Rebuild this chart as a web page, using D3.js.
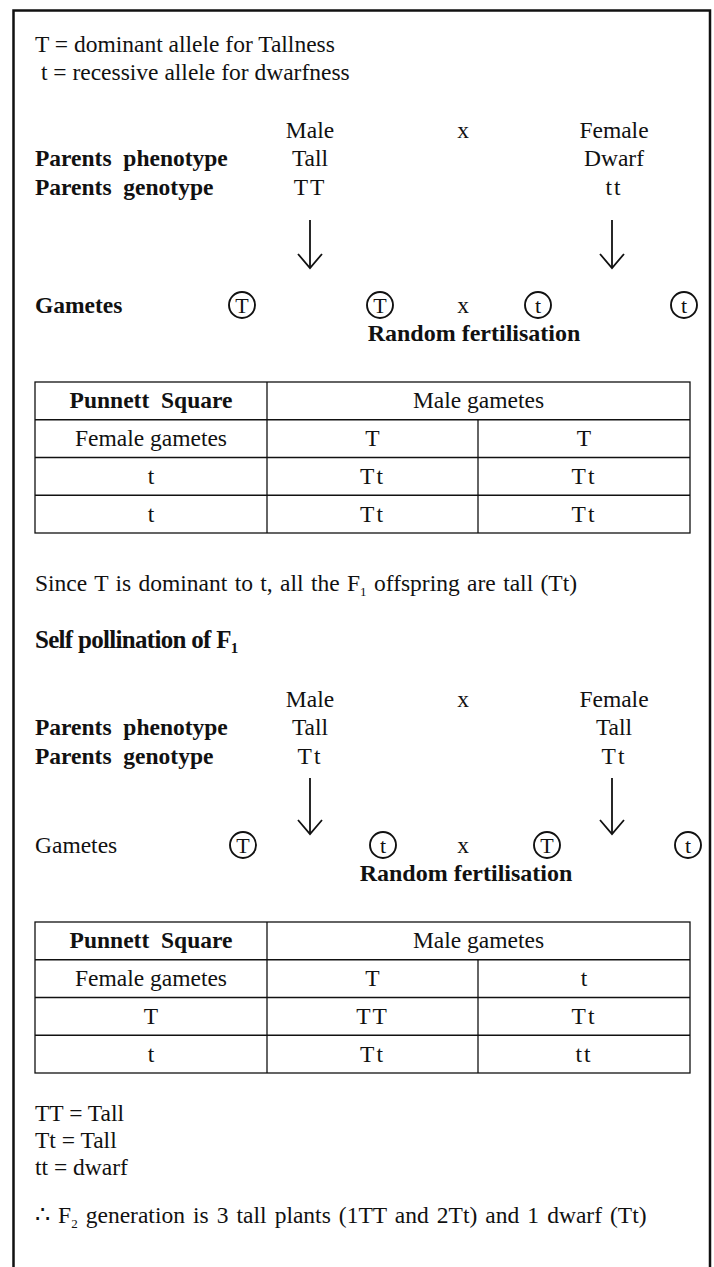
<!DOCTYPE html>
<html>
<head>
<meta charset="utf-8">
<script src="https://cdn.jsdelivr.net/npm/d3@7"></script>
<style>
  body { margin: 0; background: #fff; }
  svg text { font-family: "Liberation Serif", "Times New Roman", serif; fill: #111; white-space: pre; }
</style>
</head>
<body>
<div id="chart"></div>
<script>
// ---- data ----
const alleleKey = ['T = dominant allele for Tallness', ' t = recessive allele for dwarfness'];
const parentSex = ['Male', 'x', 'Female'];

const cross1Phenotype = ['Tall', 'Dwarf'];
const cross1Genotype = ['TT', 'tt'];
const cross1Gametes = ['T', 'T', 't', 't'];
const square1Male = ['T', 'T'];
const square1Female = ['t', 't'];
const square1Cells = [['Tt', 'Tt'], ['Tt', 'Tt']];

const cross2Phenotype = ['Tall', 'Tall'];
const cross2Genotype = ['Tt', 'Tt'];
const cross2Gametes = ['T', 't', 'T', 't'];
const square2Male = ['T', 't'];
const square2Female = ['T', 't'];
const square2Cells = [['TT', 'Tt'], ['Tt', 'tt']];

const f2Key = ['TT = Tall', 'Tt = Tall', 'tt = dwarf'];

// ---- layout ----
const width = 714;
const height = 1267;
const left = 35;
const fs = 23.5;

const svg = d3.select('#chart').append('svg')
  .attr('width', width)
  .attr('height', height);

// outer frame, open at the bottom
svg.append('path')
  .attr('d', `M13.5,${height + 5}V10.5H710V${height + 5}`)
  .attr('fill', 'none')
  .attr('stroke', '#111')
  .attr('stroke-width', 2.5);

// parents columns: male, cross sign, female
const parentX = d3.scaleOrdinal().domain([0, 1, 2]).range([310, 463, 614]);
// table columns
const colX = d3.scaleOrdinal().domain([0, 1, 2, 3]).range([35, 267, 478, 690]);

function addText(x, y, str, opts = {}) {
  const t = svg.append('text')
    .attr('x', x)
    .attr('y', y)
    .attr('font-size', opts.size || fs)
    .attr('font-weight', opts.bold ? 'bold' : 'normal')
    .attr('text-anchor', opts.anchor || 'start')
    .attr('letter-spacing', opts.spacing || 0)
    .attr('word-spacing', opts.words || 0)
    .text(str);
  return t;
}

function withSub(t, main, sub, after, subSize) {
  t.text(null);
  t.append('tspan').text(main);
  t.append('tspan').attr('font-size', subSize).attr('dy', 5).text(sub);
  if (after) t.append('tspan').attr('dy', -5).text(after);
  return t;
}

function arrow(x, y0, y1) {
  svg.append('line')
    .attr('x1', x).attr('x2', x)
    .attr('y1', y0).attr('y2', y1)
    .attr('stroke', '#111').attr('stroke-width', 1.8);
  svg.append('polyline')
    .attr('points', `${x - 12},${y1 - 14} ${x},${y1} ${x + 12},${y1 - 14}`)
    .attr('fill', 'none')
    .attr('stroke', '#111').attr('stroke-width', 1.8);
}

function drawCross(top, phenotype, genotype, arrowY, gy, gametes, gameteX, randX, boldGametes) {
  parentSex.forEach((s, i) => addText(parentX(i), top, s, { anchor: 'middle' }));
  addText(left, top + 28, 'Parents  phenotype', { bold: true });
  addText(left, top + 57, 'Parents  genotype', { bold: true });
  phenotype.forEach((p, i) => addText(parentX(i * 2), top + 28, p, { anchor: 'middle' }));
  genotype.forEach((g, i) => addText(parentX(i * 2), top + 57, g, { anchor: 'middle', spacing: 2 }));

  arrow(parentX(0), arrowY[0], arrowY[1]);
  arrow(parentX(2) - 2, arrowY[0], arrowY[1]);

  addText(left, gy + 8, 'Gametes', { bold: boldGametes });
  const g = svg.append('g').selectAll('g')
    .data(gametes)
    .join('g')
    .attr('transform', (d, i) => `translate(${gameteX[i]},${gy})`);
  g.append('circle')
    .attr('r', 13)
    .attr('fill', 'none')
    .attr('stroke', '#111')
    .attr('stroke-width', 1.9);
  g.append('text')
    .attr('y', 7.5)
    .attr('text-anchor', 'middle')
    .attr('font-size', 22)
    .text(d => d);
  addText(parentX(1), gy + 8, 'x', { anchor: 'middle' });
  addText(randX, gy + 36, 'Random fertilisation', { bold: true, anchor: 'middle', size: 24 });
}

function drawSquare(top, male, female, cells) {
  const rows = [
    ['Punnett  Square', 'Male gametes'],
    ['Female gametes'].concat(male)
  ].concat(female.map((f, i) => [f].concat(cells[i])));
  const rowY = d3.scaleLinear().domain([0, rows.length]).range([top, top + 151]);

  const g = svg.append('g');
  g.append('rect')
    .attr('x', colX(0)).attr('y', rowY(0))
    .attr('width', colX(3) - colX(0)).attr('height', rowY(rows.length) - rowY(0))
    .attr('fill', 'none').attr('stroke', '#111').attr('stroke-width', 1.3);
  d3.range(1, rows.length).forEach(r => {
    g.append('line')
      .attr('x1', colX(0)).attr('x2', colX(3))
      .attr('y1', rowY(r)).attr('y2', rowY(r))
      .attr('stroke', '#111').attr('stroke-width', 1.3);
  });
  // column dividers: first one runs full height, second skips the header row
  g.append('line')
    .attr('x1', colX(1)).attr('x2', colX(1))
    .attr('y1', rowY(0)).attr('y2', rowY(rows.length))
    .attr('stroke', '#111').attr('stroke-width', 1.3);
  g.append('line')
    .attr('x1', colX(2)).attr('x2', colX(2))
    .attr('y1', rowY(1)).attr('y2', rowY(rows.length))
    .attr('stroke', '#111').attr('stroke-width', 1.3);

  rows.forEach((row, r) => {
    const cy = (rowY(r) + rowY(r + 1)) / 2 + 7.5;
    if (r === 0) {
      addText((colX(0) + colX(1)) / 2, cy, row[0], { bold: true, anchor: 'middle' });
      addText((colX(1) + colX(3)) / 2, cy, row[1], { anchor: 'middle' });
    } else {
      row.forEach((c, i) => {
        addText((colX(i) + colX(i + 1)) / 2, cy, c, { anchor: 'middle', spacing: i > 0 && c.length > 1 ? 2 : 0 });
      });
    }
  });
}

// ---- first cross ----
alleleKey.forEach((s, i) => addText(left, 52 + i * 28, s));
drawCross(138, cross1Phenotype, cross1Genotype, [220, 268], 305, cross1Gametes, [242, 380, 538, 684], 474, true);
drawSquare(382, square1Male, square1Female, square1Cells);

withSub(addText(left, 591, '', { words: 1.5 }), 'Since T is dominant to t, all the F', '1', ' offspring are tall (Tt)', 13);

// ---- second cross ----
withSub(addText(left, 648, '', { bold: true, spacing: -0.7, size: 25 }), 'Self pollination of F', '1', null, 15);
drawCross(707, cross2Phenotype, cross2Genotype, [778, 834], 845, cross2Gametes, [243, 383, 547, 688], 466, false);
drawSquare(922, square2Male, square2Female, square2Cells);

f2Key.forEach((s, i) => addText(left, 1121 + i * 27, s));
withSub(addText(left, 1223, '', { words: 2.2 }), '\u2234 F', '2', ' generation is 3 tall plants (1TT and 2Tt) and 1 dwarf (Tt)', 13);
</script>
</body>
</html>
